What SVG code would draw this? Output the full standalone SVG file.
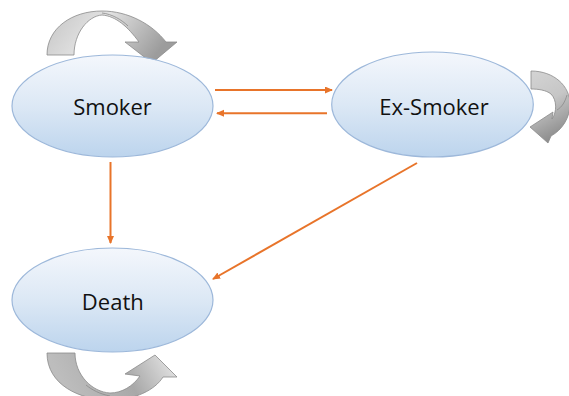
<svg xmlns="http://www.w3.org/2000/svg" width="569" height="396" viewBox="0 0 569 396">
  <style>
    .state { fill: url(#ellFill); stroke: #9DB8DA; stroke-width: 1.2; }
    .label { font-family: "Open Sans", "Liberation Sans", sans-serif; font-size: 22px; fill: #111111; text-anchor: middle; }
    .conn { stroke: #E8742A; stroke-width: 2; fill: none; marker-end: url(#arrow); }
    .loop { stroke: #8A8A8A; stroke-width: 0.8; stroke-linejoin: round; }
    .fold { stroke: #8A8A8A; stroke-width: 0.8; fill: none; }
  </style>
  <defs>
    <linearGradient id="ellFill" x1="0" y1="0" x2="0" y2="1">
      <stop offset="0" stop-color="#F4F7FC"/>
      <stop offset="0.5" stop-color="#DCE8F5"/>
      <stop offset="1" stop-color="#BCD4ED"/>
    </linearGradient>
    <linearGradient id="grayTop" x1="0" y1="0" x2="1" y2="0.3">
      <stop offset="0" stop-color="#C4C4C4"/>
      <stop offset="0.45" stop-color="#E2E2E2"/>
      <stop offset="1" stop-color="#9C9C9C"/>
    </linearGradient>
    <linearGradient id="grayRight" x1="0" y1="0" x2="0.3" y2="1">
      <stop offset="0" stop-color="#D4D4D4"/>
      <stop offset="0.5" stop-color="#C6C6C6"/>
      <stop offset="1" stop-color="#8F8F8F"/>
    </linearGradient>
    <linearGradient id="grayBottom" x1="0" y1="0" x2="1" y2="-0.2">
      <stop offset="0" stop-color="#BDBDBD"/>
      <stop offset="0.5" stop-color="#A8A8A8"/>
      <stop offset="1" stop-color="#F2F2F2"/>
    </linearGradient>
    <marker id="arrow" markerUnits="userSpaceOnUse" markerWidth="9" markerHeight="8" refX="7" refY="3.5" orient="auto">
      <path d="M0,0 L8,3.5 L0,7 Z" fill="#E8742A"/>
    </marker>
  </defs>

  <g id="connectors">
    <path class="conn" d="M215,90 L332,90"/>
    <path class="conn" d="M327,113.3 L217,113.3"/>
    <path class="conn" d="M110.5,162 L110.5,243"/>
    <path class="conn" d="M417,163 L213,279"/>
  </g>

  <g id="loop-smoker">
    <path class="loop" fill="url(#grayTop)" d="M47,55 C47,28 72,11 102,11 C128,11 152,24 166,42 L177,42 L152,63 L125,42 L139,42 C128,27 116,16 102,15 C88,16 74,33 74,55 Z"/>
    <path class="fold" d="M102,13 C112,14 122,20 128,26"/>
  </g>

  <g id="loop-exsmoker">
    <path class="loop" fill="url(#grayRight)" d="M531,71 C554,71 570,86 570,104 C570,118 562,130 551,136 L548,143 L530,127 L553,112 L552,119 C557,112 557,100 551,94 C546,90 538,89 531,89 Z"/>
    <path class="fold" d="M567,95 C565,102 562,107 557,110"/>
  </g>

  <g id="loop-death">
    <path class="loop" fill="url(#grayBottom)" d="M47,353 L75,353 C75,375 92,392 110,393 C122,393 133,386 140,376 L125,374 L155,355 L177,377 L163,377 C155,390 135,400 110,400 C80,400 47,385 47,353 Z"/>
    <path class="fold" d="M110,396 C100,394 92,390 86,385"/>
  </g>

  <g id="node-smoker">
    <ellipse class="state" cx="112.5" cy="106" rx="100.5" ry="51"/>
    <text class="label" x="112.5" y="115">Smoker</text>
  </g>

  <g id="node-exsmoker">
    <ellipse class="state" cx="432.5" cy="104.5" rx="100.8" ry="52.5"/>
    <text class="label" x="434" y="115">Ex-Smoker</text>
  </g>

  <g id="node-death">
    <ellipse class="state" cx="112.5" cy="300" rx="100.5" ry="52"/>
    <text class="label" x="112.8" y="310">Death</text>
  </g>
</svg>
